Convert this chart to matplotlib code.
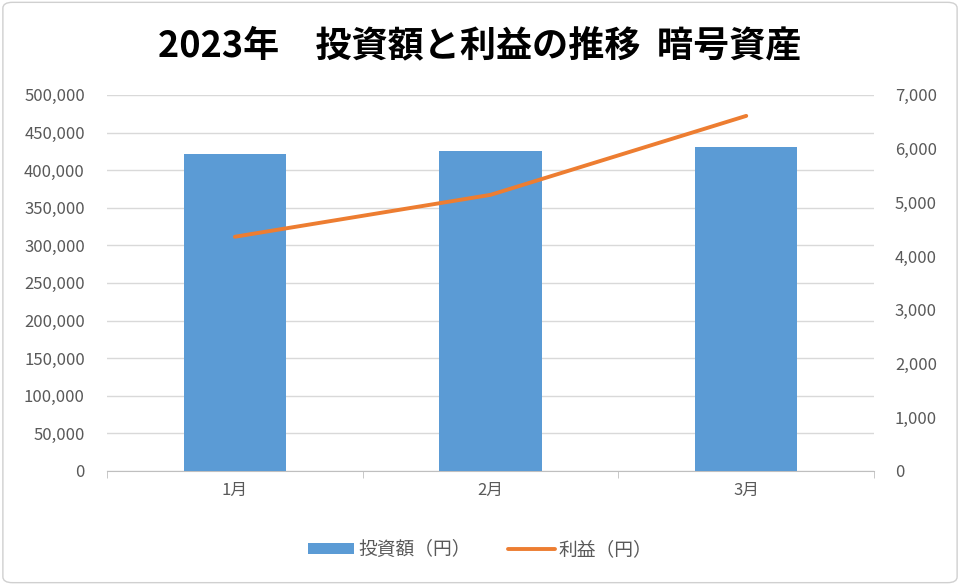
import matplotlib
matplotlib.use("Agg")
import matplotlib.pyplot as plt
from matplotlib.ticker import FuncFormatter, FixedLocator
from matplotlib.patches import FancyBboxPatch

plt.rcParams['font.family'] = ['Noto Sans CJK JP', 'DejaVu Sans']

categories = ['1月', '2月', '3月']
investment = [421000, 425500, 430500]
profit = [4360, 5140, 6610]
title = '2023年　投資額と利益の推移  暗号資産'
bar_label = '投資額（円）'
line_label = '利益（円）'

fig = plt.figure(figsize=(9.6, 5.85), dpi=100)
ax = fig.add_axes([0.1115, 0.195, 0.7990, 0.6427])
ax2 = ax.twinx()

x = list(range(len(categories)))
bars = ax.bar(x, investment, width=0.4, color='#5B9BD5', label=bar_label, zorder=3)
line, = ax2.plot(x, profit, color='#ED7D31', linewidth=2.8, label=line_label,
                 solid_capstyle='round', zorder=4)

ax.set_xlim(-0.5, 2.5)
ax.set_ylim(0, 500000)
ax2.set_ylim(0, 7000)
ax.set_yticks(range(0, 500001, 50000))
ax2.set_yticks(range(0, 7001, 1000))
fmt = FuncFormatter(lambda v, p: f'{int(v):,}')
ax.yaxis.set_major_formatter(fmt)
ax2.yaxis.set_major_formatter(fmt)

ax.grid(axis='y', color='#d9d9d9', linewidth=1, zorder=0)
ax.set_axisbelow(True)
for a in (ax, ax2):
    for s in ('top', 'left', 'right'):
        a.spines[s].set_visible(False)
    a.spines['bottom'].set_color('#bfbfbf')
ax2.spines['bottom'].set_visible(False)

ax.set_xticks(x)
ax.set_xticklabels(categories)
ax.xaxis.set_minor_locator(FixedLocator([-0.5, 0.5, 1.5, 2.5]))
ax.tick_params(axis='x', which='major', length=0, pad=8, labelsize=12, labelcolor='#595959')
ax.tick_params(axis='x', which='minor', length=5, color='#bfbfbf')
ax.tick_params(axis='y', length=0, pad=16, labelsize=12, labelcolor='#595959')
ax2.tick_params(axis='y', length=0, pad=15, labelsize=12, labelcolor='#595959')

fig.text(0.5, 0.922, title, ha='center', va='center', fontsize=26, fontweight='bold', color='black')

fig.legend(handles=[bars, line], labels=[bar_label, line_label], loc='center',
           bbox_to_anchor=(0.5, 0.06), ncol=2, frameon=False, fontsize=13.5,
           labelcolor='#595959', handlelength=2.5, handleheight=0.55,
           columnspacing=2.0, handletextpad=0.2)

border = FancyBboxPatch((0.003, 0.004), 0.994, 0.992, boxstyle='round,pad=0,rounding_size=0.01',
                        transform=fig.transFigure, fill=False, edgecolor='#d0d0d0', linewidth=1)
fig.patches.append(border)

fig.savefig('out.png', dpi=100)
